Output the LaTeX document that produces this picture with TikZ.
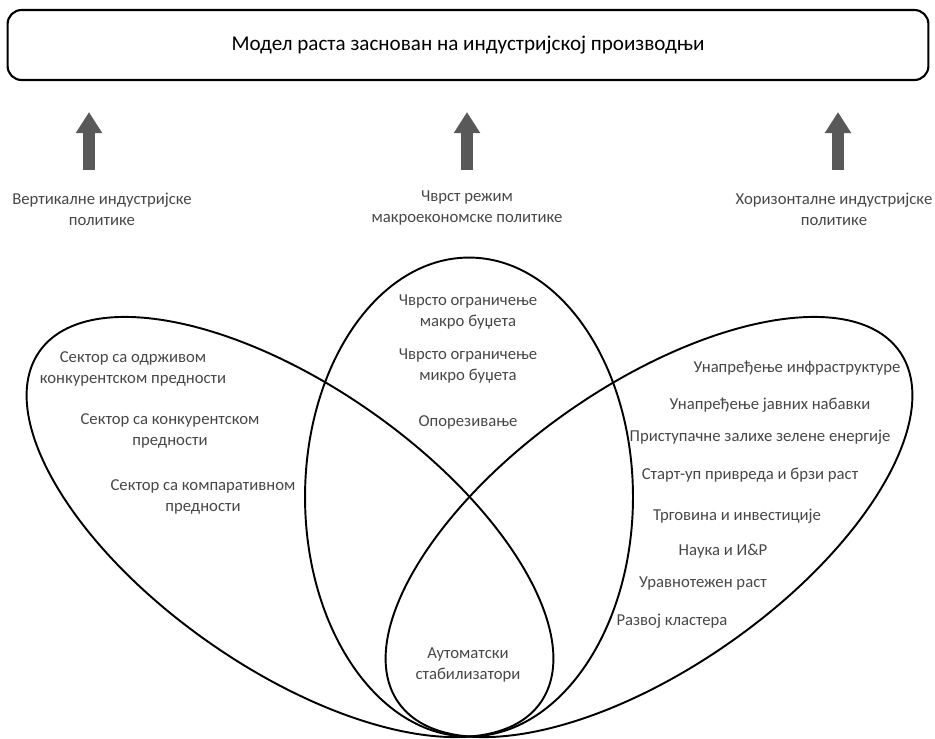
\documentclass[tikz,border=0pt]{standalone}
\usepackage{fontspec}
\setmainfont{Carlito}
\usetikzlibrary{arrows.meta,positioning}

\begin{document}
\begin{tikzpicture}[x=0.02cm, y=-0.02cm,
  txt/.style={text=black!72, align=center, inner sep=1pt, font=\fontsize{9.5}{12}\selectfont},
  ring/.style={line width=1.1pt},
  uparrow/.style={-{Triangle[width=0.5cm,length=0.42cm]}, line width=0.25cm, draw=black!65}]
  \useasboundingbox (0,0) rectangle (935,738);

  % Top box
  \node[draw, line width=1.2pt, rounded corners=0.28cm, minimum width=18.42cm, minimum height=1.4cm,
        font=\fontsize{12}{14}\selectfont] (model) at (468,45) {Модел раста заснован на индустријској производњи};

  % Policy labels
  \node[txt] (vert) at (102,209) {Вертикалне индустријске\\политике};
  \node[txt] (macro) at (467,208) {Чврст режим\\макроекономске политике};
  \node[txt] (horiz) at (834,209) {Хоризонталне индустријске\\политике};

  % Arrows up to the box
  \coordinate (aL) at (89,170);
  \coordinate (aM) at (467,170);
  \coordinate (aR) at (838,170);
  \foreach \a in {aL,aM,aR}
    \draw[uparrow, shorten >=0.62cm] (\a) -- (\a |- model.south);

  % Ellipses
  \draw[ring, shift={(290,527)}, rotate=-35] (0,0) ellipse [x radius=6.12cm, y radius=2.82cm];
  \draw[ring] (469,497) ellipse [x radius=3.28cm, y radius=4.79cm];
  \draw[ring, shift={(649,527)}, rotate=35] (0,0) ellipse [x radius=6.12cm, y radius=2.82cm];

  % Left set
  \node[txt] (sust) at (133,369) {Сектор са одрживом\\конкурентском предности};
  \node[txt] (compet) at (170,431) {Сектор са конкурентском\\предности};
  \node[txt] (compar) at (203,497) {Сектор са компаративном\\предности};

  % Middle set
  \node[txt] (macrob) at (468,312) {Чврсто ограничење\\макро буџета};
  \node[txt] (microb) at (468,366) {Чврсто ограничење\\микро буџета};
  \node[txt] (tax) at (468,422) {Опорезивање};
  \node[txt] (auto) at (468,665) {Аутоматски\\стабилизатори};

  % Right set
  \foreach \x/\y/\t [count=\i] in {797/368/Унапређење инфраструктуре, 770/405/Унапређење јавних набавки,
      760/437/Приступачне залихе зелене енергије, 750/475/Старт-уп привреда и брзи раст,
      737/516/Трговина и инвестиције, 723/551/Наука и И\&Р, 703/583/Уравнотежен раст,
      672/621/Развој кластера}
    \node[txt] (hor\i) at (\x,\y) {\t};
\end{tikzpicture}
\end{document}
